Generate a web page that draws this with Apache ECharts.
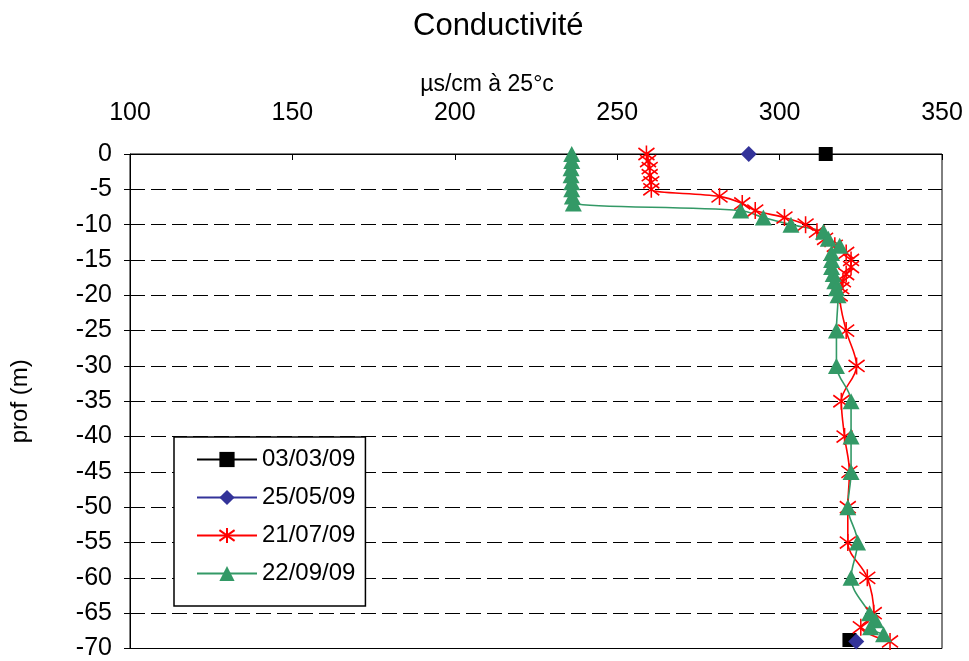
<!DOCTYPE html>
<html>
<head>
<meta charset="utf-8">
<script src="https://cdn.jsdelivr.net/npm/echarts@6/dist/echarts.min.js"></script>
<style>
html,body{margin:0;padding:0;background:#fff;}
#chart{width:969px;height:661px;}
</style>
</head>
<body>
<div id="chart"></div>
<script>
const seriesNames = ['03/03/09', '25/05/09', '21/07/09', '22/09/09'];
const xTicks = [100, 150, 200, 250, 300, 350];
const yTicks = [0, -5, -10, -15, -20, -25, -30, -35, -40, -45, -50, -55, -60, -65, -70];

const blackDepth = [0, -68.8];
const blackValue = [314.2, 321.5];

const blueDepth = [0, -69];
const blueValue = [290.5, 323.6];

const redDepth = [0, -1, -2, -3, -4, -5, -6, -7, -8, -9, -10, -11, -12, -13, -14, -15, -16, -17, -18, -19, -20, -25, -30, -35, -40, -45, -50, -55, -60, -65, -67, -69];
const redValue = [259, 259.5, 260, 260, 260.5, 260.5, 281.5, 288.5, 292.5, 301.5, 308, 311.5, 314, 317, 320.5, 322, 322, 320.5, 319.5, 319, 318.5, 320.5, 323.7, 319, 320, 321.5, 321, 321, 327, 329, 325, 334];

const greenDepth = [0, -1, -2, -3, -4, -5, -6, -7, -8, -9, -10, -11, -12, -13, -14, -15, -16, -17, -18, -19, -20, -25, -30, -35, -40, -45, -50, -55, -60, -65, -66, -67, -68];
const greenValue = [236, 236, 235.8, 235.8, 236, 236, 236.2, 236.5, 288, 295, 303.5, 313.5, 315, 318.5, 316, 316, 316, 316.5, 317, 317.5, 318, 317.5, 317.5, 322, 322, 322, 321, 324, 322, 327.7, 329.5, 328, 332];

function pairs(vals, depths) { return vals.map((v, i) => [v, depths[i]]); }
// the two early campaigns have no measurements in between: keep a gap
function gapped(vals, depths) { return [[vals[0], depths[0]], ['-', '-'], [vals[1], depths[1]]]; }

const FONT = '"Liberation Sans", Arial, Helvetica, sans-serif';
const starPath = 'path://M10 0 L10 20 M2 3 L18 17 M2 17 L18 3';

const chart = echarts.init(document.getElementById('chart'), null, {renderer: 'canvas'});
chart.setOption({
  animation: false,
  backgroundColor: '#fff',
  textStyle: {fontFamily: FONT, color: '#000'},
  title: {
    text: 'Conductivité',
    left: 408, top: 6,
    textStyle: {fontFamily: FONT, fontSize: 31, fontWeight: 'normal', color: '#000'}
  },
  grid: {left: 130, right: 27, top: 154, bottom: 11, show: true, borderColor: '#000', borderWidth: 1, backgroundColor: '#fff'},
  legend: {
    orient: 'vertical',
    left: 174, top: 437,
    padding: [10, 10, 20, 22],
    itemGap: 13,
    itemWidth: 60,
    itemHeight: 19,
    borderColor: '#000', borderWidth: 1.5,
    backgroundColor: '#fff',
    data: seriesNames,
    textStyle: {fontFamily: FONT, fontSize: 24, color: '#000', lineHeight: 25}
  },
  xAxis: {
    type: 'value', position: 'top',
    min: xTicks[0], max: xTicks[xTicks.length - 1], interval: 50,
    name: 'µs/cm à 25°c', nameLocation: 'middle', nameGap: 54,
    nameTextStyle: {fontFamily: FONT, fontSize: 23, color: '#000', padding: [0, 98, 0, 0]},
    axisLine: {show: true, onZero: false, lineStyle: {color: '#000', width: 1}},
    axisTick: {show: true, inside: true, length: 6, lineStyle: {color: '#000'}},
    axisLabel: {fontFamily: FONT, fontSize: 25, color: '#000', margin: 28},
    splitLine: {show: false}
  },
  yAxis: {
    type: 'value',
    min: yTicks[yTicks.length - 1], max: yTicks[0], interval: 5,
    name: 'prof (m)', nameLocation: 'middle', nameGap: 98, nameRotate: 90,
    nameTextStyle: {fontFamily: FONT, fontSize: 24, color: '#000'},
    axisLine: {show: true, onZero: false, lineStyle: {color: '#000', width: 1}},
    axisTick: {show: true, inside: false, length: 6, lineStyle: {color: '#000'}},
    axisLabel: {fontFamily: FONT, fontSize: 25, color: '#000', margin: 18},
    splitLine: {show: true, lineStyle: {color: '#000', width: 1, type: [15, 6]}}
  },
  series: [
    {
      name: seriesNames[0], type: 'line',
      data: gapped(blackValue, blackDepth),
      symbol: 'rect', symbolSize: 14,
      itemStyle: {color: '#000'},
      lineStyle: {color: '#000', width: 3}
    },
    {
      name: seriesNames[1], type: 'line',
      data: gapped(blueValue, blueDepth),
      symbol: 'diamond', symbolSize: [16, 16],
      itemStyle: {color: '#333399'},
      lineStyle: {color: '#333399', width: 1}
    },
    {
      name: seriesNames[2], type: 'line',
      data: pairs(redValue, redDepth),
      smooth: 0.35,
      symbol: starPath, symbolSize: [16, 17],
      itemStyle: {color: 'rgba(0,0,0,0)', borderColor: '#FF0000', borderWidth: 1.6},
      lineStyle: {color: '#FF0000', width: 1.6}
    },
    {
      name: seriesNames[3], type: 'line',
      data: pairs(greenValue, greenDepth),
      smooth: 0.35,
      symbol: 'triangle', symbolSize: [17, 16],
      itemStyle: {color: '#339966'},
      lineStyle: {color: '#339966', width: 1.6}
    }
  ]
});
</script>
</body>
</html>
